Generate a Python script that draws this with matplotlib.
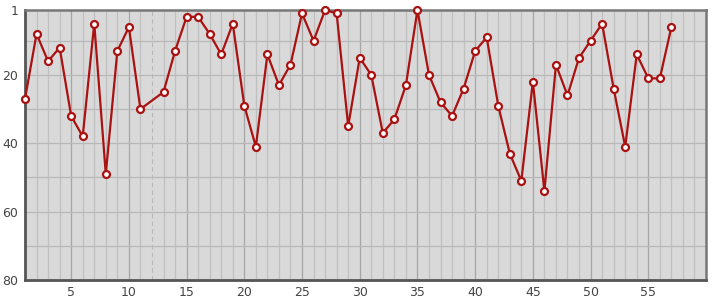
import matplotlib
matplotlib.use("Agg")
import matplotlib.pyplot as plt

# positions (x) and values; no point at x=12
x_vals = [1, 2, 3, 4, 5, 6, 7, 8, 9, 10, 11, 13, 14, 15, 16, 17, 18, 19, 20,
          21, 22, 23, 24, 25, 26, 27, 28, 29, 30, 31, 32, 33, 34, 35, 36, 37,
          38, 39, 40, 41, 42, 43, 44, 45, 46, 47, 48, 49, 50, 51, 52, 53, 54,
          55, 56, 57]
y_vals = [27, 8, 16, 12, 32, 38, 5, 49, 13, 6, 30, 25, 13, 3, 3, 8, 14, 5, 29,
          41, 14, 23, 17, 2, 10, 1, 2, 35, 15, 20, 37, 33, 23, 1, 20, 28,
          32, 24, 13, 9, 29, 43, 51, 22, 54, 17, 26, 15, 10, 5, 24, 41, 14,
          21, 21, 6]
x_ticks = [5, 10, 15, 20, 25, 30, 35, 40, 45, 50, 55]
y_ticks = [1, 20, 40, 60, 80]
marker_x = 12  # dashed vertical line

fig = plt.figure(figsize=(7.15, 3.0), dpi=100)
ax = fig.add_axes([25 / 715, 20 / 300, 681 / 715, 270 / 300])
ax.set_facecolor("#d9d9d9")

ax.set_xlim(1, 60)
ax.set_ylim(80, 1)

# grid: thin lines every unit on x, every 10 on y, darker every 5 on x
for xv in range(2, 60):
    if xv == marker_x:
        ax.axvline(xv, color="#b8b8b8", lw=0.8, ls=(0, (4, 3)), zorder=1)
    elif xv % 5 == 0:
        ax.axvline(xv, color="#a6a6a6", lw=0.9, zorder=1)
    else:
        ax.axvline(xv, color="#c0c0c0", lw=0.9, zorder=1)
for yv in range(10, 80, 10):
    ax.axhline(yv, color="#b8b8b8", lw=0.9, zorder=1)

ax.plot(x_vals, y_vals, color="#aa1111", lw=1.6, marker="o", ms=5,
        mfc="white", mec="#aa1111", mew=1.6, zorder=3, clip_on=False)

ax.set_xticks(x_ticks)
ax.set_yticks(y_ticks)
ax.tick_params(length=0, labelsize=9, colors="#444444", pad=4)
ax.tick_params(axis="y", pad=5)

for side in ["left", "bottom"]:
    ax.spines[side].set_color("#555555")
    ax.spines[side].set_linewidth(2.0)
for side in ["top", "right"]:
    ax.spines[side].set_color("#777777")
    ax.spines[side].set_linewidth(1.8)

fig.savefig("out.png", dpi=100)
